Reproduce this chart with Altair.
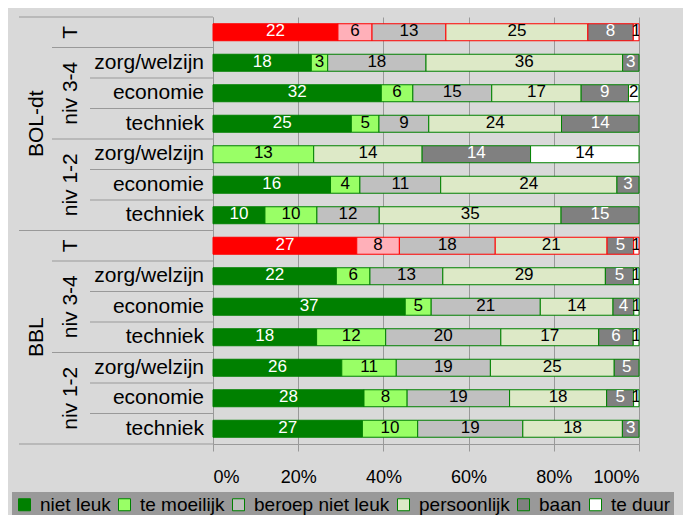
import altair as alt
import pandas as pd

# ---- data ----
categories = ["niet leuk", "te moeilijk", "beroep niet leuk", "persoonlijk", "baan", "te duur"]
cat_colors = ["#008000", "#99ff66", "#c0c0c0", "#dde9c7", "#808080", "#ffffff"]
t_keys = ["T niet leuk", "T te moeilijk"]
t_colors = ["#ff0000", "#ffb0b9"]

groups = ["BOL-dt"] * 7 + ["BBL"] * 7
levels = ["T", "niv 3-4", "niv 3-4", "niv 3-4", "niv 1-2", "niv 1-2", "niv 1-2"] * 2
sectors = ["", "zorg/welzijn", "economie", "techniek", "zorg/welzijn", "economie", "techniek"] * 2

niet_leuk        = [22, 18, 32, 25, 0, 16, 10, 27, 22, 37, 18, 26, 28, 27]
te_moeilijk      = [6, 3, 6, 5, 13, 4, 10, 8, 6, 5, 12, 11, 8, 10]
beroep_niet_leuk = [13, 18, 15, 9, 0, 11, 12, 18, 13, 21, 20, 19, 19, 19]
persoonlijk      = [25, 36, 17, 24, 14, 24, 35, 21, 29, 14, 17, 25, 18, 18]
baan             = [8, 3, 9, 14, 14, 3, 15, 5, 5, 4, 6, 5, 5, 3]
te_duur          = [1, 0, 2, 0, 14, 0, 0, 1, 1, 1, 1, 0, 1, 0]

series = [niet_leuk, te_moeilijk, beroep_niet_leuk, persoonlijk, baan, te_duur]
row_ids = ["r%02d" % i for i in range(14)]

# boundaries between rows (0 = top, 14 = bottom)
full_bounds = [0, 7, 14]
level_bounds = [1, 4, 8, 11]
sector_bounds = [2, 3, 5, 6, 9, 10, 12, 13]

# ---- long table ----
recs = []
for i, rid in enumerate(row_ids):
    for j, cat in enumerate(categories):
        v = series[j][i]
        key = cat
        if levels[i] == "T" and cat in ("niet leuk", "te moeilijk"):
            key = "T " + cat
        recs.append({"row": rid, "cat": cat, "order": j, "value": v,
                     "fillkey": key, "level": levels[i]})
df = pd.DataFrame(recs)

lab_recs = []
for i, rid in enumerate(row_ids):
    if sectors[i]:
        lab_recs.append({"row": rid, "text": sectors[i], "kind": "sector"})
    if levels[i] == "T":
        lab_recs.append({"row": rid, "text": "T", "kind": "level"})
for rid, t in [("r02", "niv 3-4"), ("r05", "niv 1-2"), ("r09", "niv 3-4"), ("r12", "niv 1-2")]:
    lab_recs.append({"row": rid, "text": t, "kind": "level"})
for rid, t in [("r03", "BOL-dt"), ("r10", "BBL")]:
    lab_recs.append({"row": rid, "text": t, "kind": "group"})
labels = pd.DataFrame(lab_recs)

FONT = "Liberation Sans"
LINE = "#999999"

yband = alt.Y("row:N", sort=row_ids,
              scale=alt.Scale(paddingInner=0.443, paddingOuter=0.2215),
              axis=alt.Axis(labels=False, ticks=False, title=None, domain=True,
                            domainColor=LINE, grid=False))

stacked = (alt.Chart(df)
           .transform_filter("datum.value > 0")
           .transform_stack(stack="value", groupby=["row"], as_=["x0", "x1"],
                            offset="normalize", sort=[alt.SortField("order", "ascending")])
           .transform_calculate(mid="(datum.x0 + datum.x1) / 2"))

bars = stacked.mark_bar(strokeWidth=1).encode(
    x=alt.X("x0:Q", scale=alt.Scale(domain=[0, 1], nice=False),
            axis=alt.Axis(values=[0, 0.2, 0.4, 0.6, 0.8, 1], format=".0%", title=None,
                          labelFontSize=18, labelFont=FONT, labelColor="black",
                          tickSize=7, tickColor=LINE, domainColor=LINE,
                          gridColor=LINE, grid=True, labelPadding=17)),
    x2="x1:Q",
    y=yband,
    fill=alt.Fill("fillkey:N",
                  scale=alt.Scale(domain=categories + t_keys, range=cat_colors + t_colors),
                  legend=alt.Legend(values=categories, title=None, orient="none",
                                    legendX=-201, legendY=475, direction="horizontal",
                                    fillColor="#999999", padding=3,
                                    symbolType="square", symbolSize=144,
                                    symbolStrokeColor="#008000", symbolStrokeWidth=1,
                                    labelFontSize=19, labelFont=FONT, labelColor="black",
                                    labelOffset=6, columnPadding=4, labelLimit=300)),
    stroke=alt.condition("datum.level == 'T'", alt.value("#ff0000"), alt.value("#008000")),
)

texts = stacked.mark_text(fontSize=17, font=FONT, clip=True, dy=-1).encode(
    x="mid:Q",
    y=alt.Y("row:N", sort=row_ids),
    text="value:Q",
    color=alt.condition("datum.cat == 'niet leuk' || datum.cat == 'baan'",
                        alt.value("white"), alt.value("black")),
)

lab = alt.Chart(labels)
sector_lab = lab.transform_filter("datum.kind == 'sector'").mark_text(
    align="right", baseline="middle", fontSize=21, font=FONT, color="black").encode(
    x=alt.value(-9), y=alt.Y("row:N", sort=row_ids), text="text:N")
level_lab = lab.transform_filter("datum.kind == 'level'").mark_text(
    align="center", baseline="middle", angle=270, fontSize=21, font=FONT, color="black").encode(
    x=alt.value(-142), y=alt.Y("row:N", sort=row_ids), text="text:N")
group_lab = lab.transform_filter("datum.kind == 'group'").mark_text(
    align="center", baseline="middle", angle=270, fontSize=21, font=FONT, color="black").encode(
    x=alt.value(-176), y=alt.Y("row:N", sort=row_ids), text="text:N")

ybound = alt.Y("b:Q", scale=alt.Scale(domain=[0, 14], reverse=True, nice=False, zero=False), axis=None)

def seps(bounds, x0):
    return alt.Chart(pd.DataFrame({"b": bounds})).mark_rule(color=LINE, strokeWidth=1).encode(
        y=ybound, x=alt.value(x0), x2=alt.value(0))

main = alt.layer(bars, texts, sector_lab, level_lab, group_lab)
rules = alt.layer(seps(full_bounds, -194), seps(level_bounds, -161), seps(sector_bounds, -123))

chart = (alt.layer(main, rules)
         .resolve_scale(y="independent")
         .properties(width=426, height=427,
                     padding={"left": 205, "top": 9, "right": 44, "bottom": 71},
                     autosize="none", background="#d9d9d9")
         .configure_view(stroke=None)
         .configure_axis(labelFont=FONT))

chart.save("out.html", embed_options={"renderer": "svg", "actions": False})
